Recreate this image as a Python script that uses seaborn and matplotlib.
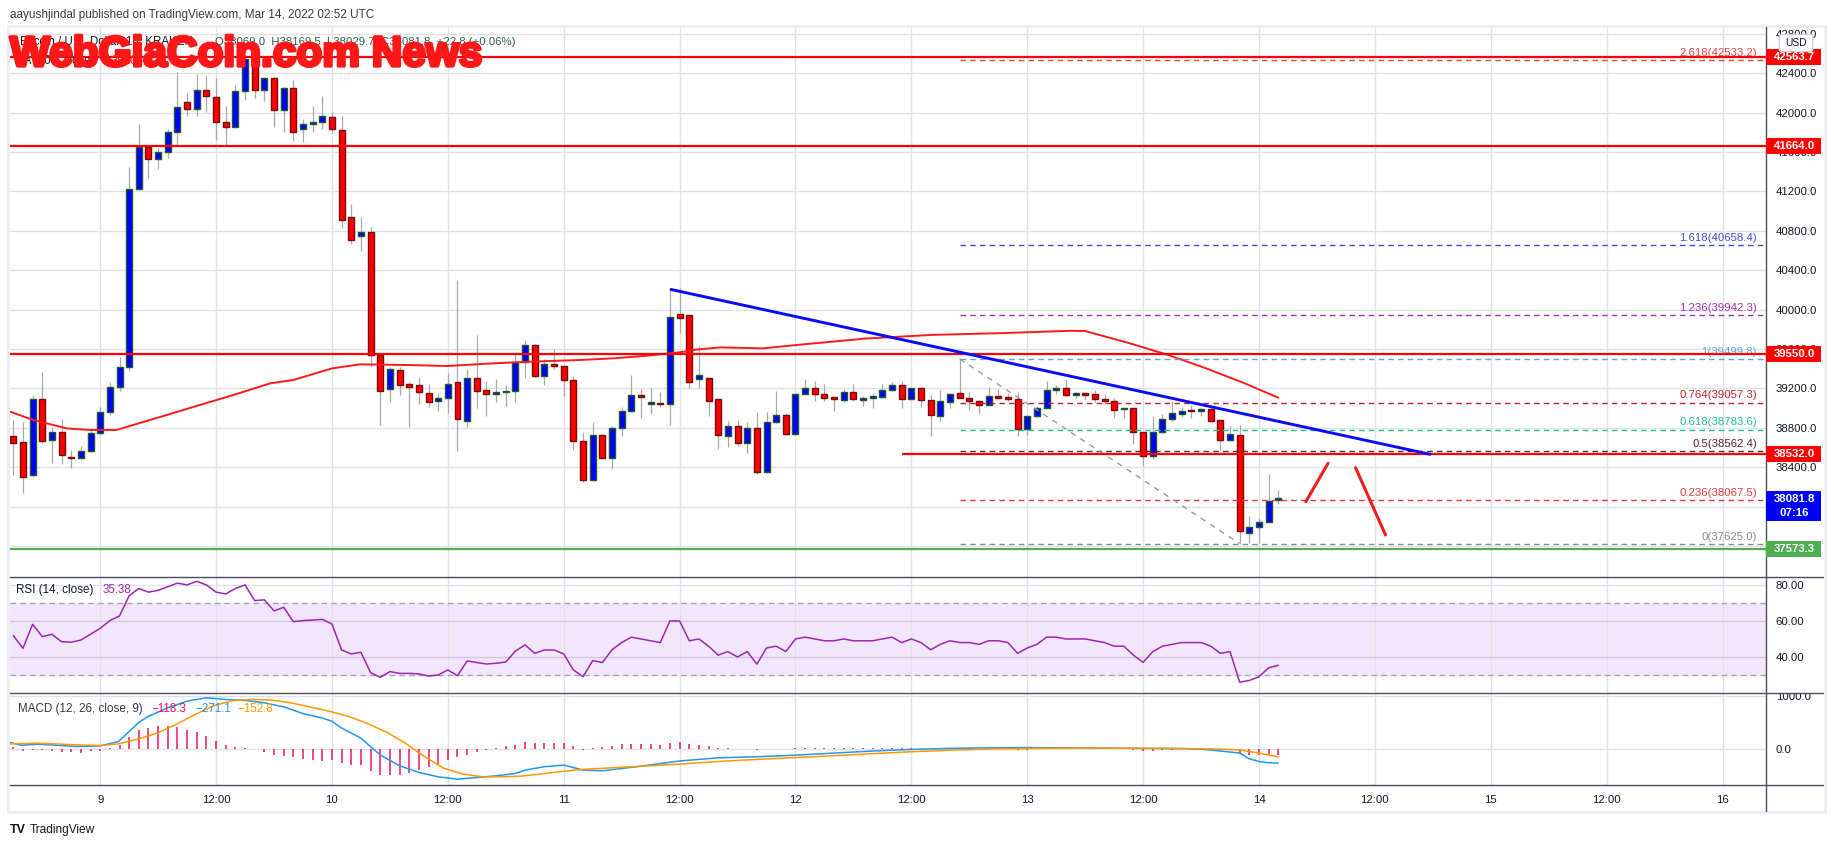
# ================================= Import Libraries =================================

import numpy as np
import pandas as pd
import matplotlib
matplotlib.use("Agg")
import matplotlib.pyplot as plt
import matplotlib.transforms as mtransforms
import matplotlib.patheffects as pe
from matplotlib.patches import Rectangle, FancyBboxPatch
from matplotlib.lines import Line2D
import seaborn as sns

# ================================= Data =================================

# BTC/USD 1h candles (Kraken), Mar 8 15:00 -> Mar 14 02:00 UTC
candle_times = pd.date_range("2022-03-08 15:00", "2022-03-14 02:00", freq="h")

opens = [38721, 38653, 38322, 39090, 38674, 38762, 38508, 38491, 38565, 38745,
         38965, 39218, 39415, 41221, 41647, 41526, 41603, 41800, 42104, 42033,
         42226, 42155, 41908, 41857, 42216, 42540, 42226, 42348, 42023, 42246,
         41830, 41881, 41901, 41952, 41820, 40937, 40744, 40785, 39540, 39190,
         39384, 39245, 39232, 39151, 39076, 39100, 39269, 38873, 39303, 39181,
         39141, 39161, 39178, 39465, 39641, 39330, 39445, 39431, 39283, 38670,
         38268, 38724, 38498, 38795, 38968, 39130, 39045, 39050, 39040, 39952,
         39942, 39293, 39303, 39090, 38714, 38816, 38646, 38795, 38349, 38856,
         38927, 38734, 39149, 39200, 39149, 39108, 39088, 39169, 39088, 39105,
         39110, 39180, 39240, 39098, 39200, 39078, 38916, 39058, 39159, 39108,
         39068, 39037, 39125, 39108, 39098, 38787, 38916, 39004, 39180, 39203,
         39135, 39140, 39142, 39092, 39071, 38990, 39000, 38757, 38513, 38757,
         38889, 38940, 38972, 38970, 38990, 38878, 38675, 38726, 37732, 37793,
         37843, 38069.0]
highs = [38880, 38863, 39134, 39371, 38812, 38887, 38576, 38620, 38779, 39015,
         39269, 39523, 41451, 41881, 41670, 41637, 41833, 42415, 42195, 42388,
         42381, 42348, 42067, 42280, 42585, 42568, 42365, 42365, 42263, 42331,
         41932, 42067, 42168, 42003, 41965, 41072, 40937, 40842, 39560, 39421,
         39421, 39262, 39313, 39245, 39151, 39354, 40301, 39394, 39743, 39276,
         39296, 39235, 39557, 39692, 39650, 39499, 39601, 39440, 39323, 38755,
         38856, 38734, 38816, 39009, 39337, 39195, 39201, 39161, 40216, 40216,
         39950, 39628, 39310, 39095, 38866, 38877, 38856, 38958, 38958, 39171,
         38951, 39155, 39295, 39274, 39244, 39112, 39193, 39244, 39125, 39159,
         39244, 39261, 39271, 39205, 39205, 39132, 39183, 39155, 39499.8, 39169,
         39085, 39210, 39190, 39159, 39169, 38920, 39024, 39271, 39237, 39298,
         39163, 39163, 39186, 39146, 39105, 39000, 39005, 38762, 38919, 38943,
         39068, 39010, 39037, 39000, 39010, 38880, 38818, 38831, 37904, 37884,
         38334, 38169.5]
lows = [38322, 38136, 38310, 38643, 38440, 38430, 38396, 38485, 38552, 38735,
        38931, 39178, 39381, 41210, 41340, 41427, 41536, 41671, 41969, 41969,
        42009, 41722, 41671, 41850, 42128, 42151, 42118, 41857, 41806, 41712,
        41698, 41800, 41830, 41790, 40825, 40666, 40599, 39421, 38829, 39066,
        39134, 38812, 39042, 39015, 38975, 38955, 38569, 38806, 38999, 38924,
        39066, 39026, 39066, 39310, 39313, 39239, 39398, 39127, 38576, 38254,
        38260, 38498, 38383, 38721, 38958, 38904, 38941, 39012, 38833, 39763,
        39205, 39201, 38924, 38586, 38609, 38620, 38548, 38335, 38340, 38850,
        38730, 38723, 39145, 39075, 39075, 38973, 39064, 39075, 39024, 38997,
        39108, 39176, 38997, 39091, 39017, 38713, 38872, 38997, 39105, 38983,
        38936, 39030, 39098, 39075, 38713, 38726, 38910, 39000, 39146, 39125,
        39102, 39078, 39061, 39044, 38899, 38899, 38638, 38412, 38486, 38750,
        38875, 38909, 38902, 38919, 38865, 38571, 38670, 37625.0, 37630, 37630,
        37840, 38029.7]
closes = [38643, 38305, 39090, 38670, 38762, 38525, 38491, 38565, 38745, 38965,
          39218, 39415, 41221, 41647, 41526, 41603, 41800, 42053, 42033, 42226,
          42165, 41908, 41857, 42216, 42540, 42226, 42348, 42023, 42246, 41806,
          41881, 41901, 41965, 41830, 40907, 40704, 40785, 39540, 39178, 39394,
          39232, 39218, 39168, 39066, 39100, 39242, 38894, 39303, 39178, 39141,
          39161, 39178, 39465, 39641, 39330, 39445, 39431, 39283, 38670, 38268,
          38724, 38498, 38795, 38968, 39130, 39110, 39050, 39040, 39922, 39919,
          39262, 39333, 39069, 38724, 38816, 38643, 38795, 38349, 38856, 38927,
          38734, 39149, 39200, 39149, 39108, 39098, 39169, 39098, 39108, 39110,
          39180, 39240, 39098, 39200, 39078, 38926, 39068, 39149, 39108, 39068,
          39037, 39125, 39108, 39098, 38787, 38916, 39004, 39180, 39203, 39132,
          39140, 39135, 39092, 39068, 38980, 38994, 38757, 38513, 38757, 38889,
          38950, 38970, 38968, 38990, 38875, 38675, 38736, 37752, 37793, 37843,
          38056, 38081.8]

# RSI(14, close), one value per candle
rsi_values = [51.9, 44.8, 58.1, 51.3, 52.6, 48.5, 48.2, 49.4, 52.6, 55.9,
              60.2, 62.8, 74, 78, 76, 77, 79, 81, 80, 82,
              80, 76, 75, 78, 80, 71.3, 71.7, 65.6, 67.6, 59.6,
              60.2, 60.5, 60.9, 58.3, 43.9, 41.7, 42.6, 31.3, 28.7, 31.9,
              30.9, 30.9, 30.6, 29.4, 30.0, 32.8, 29.6, 37.8, 36.9, 36.1,
              36.5, 37.2, 43.3, 46.7, 42.0, 43.9, 43.9, 41.7, 32.8, 29.1,
              38.0, 36.9, 44, 48, 51, 50, 49, 48, 60, 60,
              49, 50, 46, 41, 43, 40, 43, 36, 45, 46,
              43, 50, 51, 50, 49, 49, 50, 49, 49, 49,
              50, 51, 48, 50, 48, 44, 47, 49, 48, 48,
              47, 49, 49, 48, 42, 45, 47, 51, 51, 50,
              50, 50, 49, 48, 46, 46, 41, 37, 43, 46,
              47, 48, 48, 48, 46, 42, 43, 26, 27, 29,
              34, 35.38]

# MACD histogram, one value per candle
macd_hist = [32, -45, -26, -26, -32, -51, -64, -70, -45, -32,
             26, 77, 224, 353, 404, 436, 436, 410, 353, 314,
             244, 141, 70, 32, 19, -6, -64, -109, -128, -160,
             -186, -205, -224, -218, -276, -308, -314, -430, -506, -506,
             -506, -462, -410, -353, -314, -218, -160, -109, -64, -26,
             26, 51, 83, 128, 115, 115, 115, 103, 51, -26,
             13, 30, 60, 85, 100, 100, 90, 80, 115, 125,
             100, 80, 55, 25, 15, 5, 5, -15, -5, 5,
             0, 15, 25, 25, 25, 20, 20, 15, 12, 10,
             12, 15, 8, 8, 3, -8, -5, 0, 2, 0,
             -3, 0, 0, -2, -15, -12, -8, 5, 8, 5,
             5, 4, 2, 0, -5, -6, -20, -40, -35, -25,
             -15, -10, -8, -6, -12, -30, -30, -90, -110, -120,
             -115, -118.3]

# MA(100) (hours after 2022-03-08 00:00)
ma_hours = [14.66, 17.07, 20.53, 22.94, 25.7, 27.4, 30.9, 34.3, 37.8, 41.6,
            44.0, 48.0, 50.9, 56.1, 59.9, 64.7, 68.5, 73.7, 77.2, 80.6,
            84.0, 85.7, 88.2, 92.6, 96.5, 103.3, 110.2, 117.1, 124.4, 126.0,
            130.6, 134.6, 138.5, 142.5, 146.0]
ma_values = [38965, 38880, 38795, 38779, 38779, 38829, 38931, 39032, 39134, 39252,
             39286, 39404, 39445, 39438, 39428, 39455, 39472, 39489, 39506, 39533,
             39567, 39594, 39617, 39607, 39645, 39707, 39744, 39761, 39785, 39783,
             39659, 39540, 39405, 39253, 39106]

# MACD and signal lines (hours after 2022-03-08 00:00)
macd_hours = [14.7, 15.8, 17.6, 19.5, 21.5, 24, 25.9, 26.9, 28, 29,
              31, 33, 35, 37, 39, 41, 43, 45, 47, 48,
              49, 51, 53, 55, 57, 59, 61, 63, 65, 67,
              68, 70, 72, 74, 76, 80, 84, 88, 92, 96,
              100, 104, 108, 112, 116, 120, 124, 128, 132, 136,
              138, 140, 142, 143, 144, 145, 146]
macd_values = [122, 70, 89, 70, 45, 57, 141, 314, 506, 621,
               782, 910, 974, 942, 923, 878, 801, 673, 589, 525,
               397, 205, -116, -321, -449, -532, -577, -545, -513, -468,
               -404, -340, -308, -404, -417, -330, -230, -170, -150, -120,
               -80, -40, -10, 10, 20, 25, 20, 15, 10, 5,
               -5, -40, -80, -190, -240, -265, -271.1]
signal_hours = [14.7, 17.6, 21.5, 24, 25.9, 27.9, 29.9, 31.8, 33.8, 35.8,
                37.8, 39.8, 41.8, 43.7, 45.7, 47.7, 49.7, 51.7, 53.7, 55.6,
                57.6, 59.6, 61.6, 63.6, 65.5, 67.5, 69.5, 71.5, 73.9, 75.8,
                80, 84, 88, 92, 96, 100, 104, 108, 112, 116,
                120, 124, 128, 132, 136, 140, 142, 144, 145, 146]
signal_values = [96, 109, 77, 64, 96, 186, 301, 461, 653, 827,
                 923, 942, 929, 878, 801, 718, 621, 481, 314, 109,
                 -148, -372, -481, -532, -532, -520, -481, -436, -391, -372,
                 -330, -290, -240, -200, -165, -130, -90, -55, -25, -5,
                 8, 15, 15, 12, 8, -5, -20, -80, -115, -152.8]

# levels drawn by the author
red_levels = [42563.7, 41664.0, 39550.0]
support_level = 38532.0
support_start_hour = 107
green_level = 37573.3

fib_ratios = ["2.618", "1.618", "1.236", "1", "0.764", "0.618", "0.5", "0.236", "0"]
fib_prices = [42533.2, 40658.4, 39942.3, 39499.8, 39057.3, 38783.6, 38562.4, 38067.5, 37625.0]
fib_colors = ["#e8423f", "#3c4fd9", "#a12fc0", "#5aa6dd", "#c21f2a", "#22c08e", "#5a2235", "#e23b3b", "#8a8a8a"]
fib_start_hour = 113
fib_diag_hours = [113, 142]
fib_diag_prices = [39499.8, 37625.0]

trend_hours = [83, 161.8]
trend_prices = [40207, 38530]

arrow_up_hours = [148.85, 151.15]
arrow_up_prices = [38051, 38441]
arrow_down_hours = [154.0, 157.1]
arrow_down_prices = [38396, 37713]

tick_hours = [24, 36, 48, 60, 72, 84, 96, 108, 120, 132, 144, 156, 168, 180, 192]
tick_labels = ["9", "12:00", "10", "12:00", "11", "12:00", "12", "12:00",
               "13", "12:00", "14", "12:00", "15", "12:00", "16"]
price_ticks = [37600, 38000, 38400, 38800, 39200, 39600, 40000, 40400,
               40800, 41200, 41600, 42000, 42400, 42800]

# ================================= Figure =================================

sns.set_style("white")
plt.rcParams['font.family'] = ['Liberation Sans', 'DejaVu Sans']

W, H = 1834, 848
fig = plt.figure(figsize=(W / 100, H / 100), dpi=100)
fig.patch.set_facecolor("white")


def rect(x0, y0, x1, y1):
    return [x0 / W, 1 - y1 / H, (x1 - x0) / W, (y1 - y0) / H]


ax = fig.add_axes(rect(10, 28, 1766, 577))
ax_rsi = fig.add_axes(rect(10, 577, 1766, 693))
ax_macd = fig.add_axes(rect(10, 693, 1766, 785))

grid_c = "#dfe1e6"
xlim = (14.66, 196.5)
for a in (ax, ax_rsi, ax_macd):
    a.set_xlim(*xlim)
    a.set_xticks(tick_hours)
    a.grid(axis="x", color=grid_c, lw=1.0)
    a.yaxis.tick_right()
    a.tick_params(axis="y", length=0, pad=7, labelsize=8.2, labelcolor="#131722")
    a.tick_params(axis="x", length=0)
    for s in a.spines.values():
        s.set_visible(False)
    a.set_facecolor("white")
    a.set_axisbelow(True)
ax.tick_params(labelbottom=False)
ax_rsi.tick_params(labelbottom=False)
ax_macd.set_xticklabels(tick_labels)
ax_macd.tick_params(axis="x", pad=7, labelsize=8.2, labelcolor="#131722")

# ---------------- main price panel ----------------
ylim_main = (37286.7, 42858.5)
ax.set_ylim(*ylim_main)
ax.set_yticks(price_ticks)
ax.set_yticklabels([f"{v:.1f}" for v in price_ticks])
ax.grid(axis="y", color=grid_c, lw=1.0)

hours = (candle_times - pd.Timestamp("2022-03-08")) / pd.Timedelta(hours=1)
df = pd.DataFrame({"hour": hours, "open": opens, "high": highs, "low": lows, "close": closes})
usd_px = (ylim_main[1] - ylim_main[0]) / (577 - 28)
df["up"] = df["close"] >= df["open"]
df["body_lo"] = df[["open", "close"]].min(axis=1)
df["body_h"] = (df["close"] - df["open"]).abs().clip(lower=1.5 * usd_px)

ax.vlines(df["hour"], df["low"], df["high"], color="#a8a8a8", lw=0.9, zorder=3)
up = df[df["up"]]
dn = df[~df["up"]]
ax.bar(up["hour"], up["body_h"], bottom=up["body_lo"], width=0.62, color="#0000ff",
       edgecolor="#1e5a2a", lw=1.0, zorder=4)
ax.bar(dn["hour"], dn["body_h"], bottom=dn["body_lo"], width=0.62, color="#ff0000",
       edgecolor="#7a0b0b", lw=1.0, zorder=4)

ma_df = pd.DataFrame({"hour": ma_hours, "ma": ma_values})
sns.lineplot(data=ma_df, x="hour", y="ma", ax=ax, color="#ff1a1a", lw=1.4, zorder=5)

# fibonacci levels
for r, p, c in zip(fib_ratios, fib_prices, fib_colors):
    ax.hlines(p, fib_start_hour, xlim[1], colors=c, lw=1.0, linestyles=(0, (4, 3)), zorder=5)
    ax.annotate(f"{r}({p:.1f})", xy=(1, p), xycoords=("axes fraction", "data"),
                xytext=(-6.5, 1.5), textcoords="offset points", ha="right", va="bottom",
                color=c, fontsize=8.2, zorder=6)
ax.plot(fib_diag_hours, fib_diag_prices, color="#9a9a9a", lw=1.0, ls=(0, (4, 4)), zorder=5)

# horizontal levels and trend line
for p in red_levels:
    ax.axhline(p, color="#ff0000", lw=1.6, zorder=6)
ax.hlines(support_level, support_start_hour, xlim[1], colors="#ff0000", lw=1.6, zorder=6)
ax.axhline(green_level, color="#4caf50", lw=1.6, zorder=6)
ax.plot(trend_hours, trend_prices, color="#0a0aff", lw=2.1, zorder=7, solid_capstyle="butt")
ax.plot(arrow_up_hours, arrow_up_prices, color="#f21d1d", lw=2.2, zorder=7, solid_capstyle="round")
ax.plot(arrow_down_hours, arrow_down_prices, color="#f21d1d", lw=2.2, zorder=7, solid_capstyle="round")
ax.set_xlabel("")
ax.set_ylabel("")

# ---------------- RSI panel ----------------
ax_rsi.set_ylim(20, 84.4)
ax_rsi.axhspan(30, 70, color="#f2e6fc", zorder=0)
for lvl in (40, 60):
    ax_rsi.axhline(lvl, color="#d4c4e0", lw=1.0, zorder=1)
ax_rsi.axhline(80, color=grid_c, lw=1.0, zorder=1)
for lvl in (30, 70):
    ax_rsi.axhline(lvl, color="#a9a3b3", lw=1.0, ls=(0, (4, 3)), zorder=1)
ax_rsi.set_yticks([40, 60, 80])
ax_rsi.set_yticklabels(["40.00", "60.00", "80.00"])
rsi_df = pd.DataFrame({"hour": hours, "rsi": rsi_values})
sns.lineplot(data=rsi_df, x="hour", y="rsi", ax=ax_rsi, color="#9c27b0", lw=1.1, zorder=3)
ax_rsi.set_xlabel("")
ax_rsi.set_ylabel("")

# ---------------- MACD panel ----------------
ax_macd.set_ylim(-688, 1065)
ax_macd.axhline(0, color=grid_c, lw=1.0, zorder=0)
ax_macd.axhline(1000, color=grid_c, lw=1.0, zorder=0)
ax_macd.set_yticks([0, 1000])
ax_macd.set_yticklabels(["0.0", "1000.0"])
ax_macd.vlines(hours, 0, macd_hist, color="#f5135c", lw=1.1, zorder=2)
macd_df = pd.DataFrame({"hour": macd_hours, "macd": macd_values})
sig_df = pd.DataFrame({"hour": signal_hours, "signal": signal_values})
sns.lineplot(data=macd_df, x="hour", y="macd", ax=ax_macd, color="#2196f3", lw=1.1, zorder=3)
sns.lineplot(data=sig_df, x="hour", y="signal", ax=ax_macd, color="#ff9800", lw=1.1, zorder=3)
ax_macd.set_xlabel("")
ax_macd.set_ylabel("")
clip = mtransforms.TransformedBbox(mtransforms.Bbox([[10 / W, 1 - 785 / H], [1823 / W, 1 - 694 / H]]),
                                   fig.transFigure)
for lbl in ax_macd.get_yticklabels():
    lbl.set_clip_box(clip)
    lbl.set_clip_on(True)

# ---------------- frame and separators ----------------
def fig_line(x0, y0, x1, y1, color, lw):
    fig.add_artist(Line2D([x0 / W, x1 / W], [1 - y0 / H, 1 - y1 / H], transform=fig.transFigure,
                          color=color, lw=lw, zorder=20))


frame_c = "#eceef3"
fig_line(8, 26, 1825, 26, frame_c, 2.2)
fig_line(8, 812, 1825, 812, frame_c, 2.2)
fig_line(8, 26, 8, 812, frame_c, 2.2)
fig_line(1825, 26, 1825, 812, frame_c, 2.2)
sep_c = "#4a4e59"
for yy in (577, 693, 785):
    fig_line(10, yy, 1823, yy, sep_c, 1.0)
fig_line(1766, 27, 1766, 811, sep_c, 1.0)

# ---------------- price tags on the scale ----------------
tag_tr = mtransforms.blended_transform_factory(fig.transFigure, ax.transData)


def price_tag(price, color, lines, hgt=16, top=8):
    fig.add_artist(Rectangle((1766 / W, price + (top - hgt) * usd_px), 55 / W, hgt * usd_px,
                             transform=tag_tr, facecolor=color, edgecolor="none", zorder=25))
    for i, t in enumerate(lines):
        fig.text(1794 / W, price - i * 14 * usd_px, t, transform=tag_tr, ha="center", va="center",
                 color="white", fontsize=8.2, fontweight="bold", zorder=26)


for p in red_levels + [support_level]:
    price_tag(p, "#ff0000", [f"{p:.1f}"])
price_tag(green_level, "#4caf50", [f"{green_level:.1f}"])
price_tag(closes[-1], "#0000ff", [f"{closes[-1]:.1f}", "07:16"], hgt=30, top=8)

fig.add_artist(FancyBboxPatch((1783 / W, 1 - 50 / H), 26 / W, 14 / H, boxstyle="round,pad=0.002",
                              transform=fig.transFigure, facecolor="white", edgecolor="#c9ccd3",
                              lw=0.8, zorder=25))
fig.text(1796 / W, 1 - 43 / H, "USD", ha="center", va="center", fontsize=7.4, color="#131722", zorder=26)

# ---------------- texts ----------------
fig.text(10 / W, 1 - 15 / H, "aayushjindal published on TradingView.com, Mar 14, 2022 02:52 UTC",
         fontsize=8.5, color="#363a45", va="center")
fig.text(20 / W, 1 - 42 / H, "Bitcoin / U.S. Dollar, 1h, KRAKEN", fontsize=8.3, color="#131722", va="center")
fig.text(215 / W, 1 - 42 / H, "O38069.0  H38169.5  L38029.7  C38081.8  +22.8 (+0.06%)",
         fontsize=8.2, color="#2f5d4f", va="center")
fig.text(14 / W, 1 - 61 / H, "MA (100, close)", fontsize=8.3, color="#131722", va="center")
fig.text(112 / W, 1 - 61 / H, "39106.0", fontsize=8.3, color="#ff1a1a", va="center")

fig.text(10 / W, 1 - 66 / H, "WebGiaCoin.com News", fontsize=30.5, fontweight="bold", color="#ff1616",
         va="baseline", ha="left", zorder=30,
         path_effects=[pe.withStroke(linewidth=2.4, foreground="#ff1616")])

fig.text(16 / W, 1 - 590 / H, "RSI (14, close)", fontsize=8.4, color="#131722", va="center")
fig.text(103 / W, 1 - 590 / H, "35.38", fontsize=8.4, color="#9c27b0", va="center")

fig.text(18 / W, 1 - 709 / H, "MACD (12, 26, close, 9)", fontsize=8.4, color="#363a45", va="center")
fig.text(151 / W, 1 - 709 / H, "\u2212118.3", fontsize=8.4, color="#f5135c", va="center")
fig.text(195 / W, 1 - 709 / H, "\u2212271.1", fontsize=8.4, color="#2196f3", va="center")
fig.text(237 / W, 1 - 709 / H, "\u2212152.8", fontsize=8.4, color="#ff9800", va="center")

fig.text(10 / W, 1 - 830 / H, "TV", fontsize=9, fontweight="bold", color="#131722", va="center")
fig.text(30 / W, 1 - 830 / H, "TradingView", fontsize=8.6, color="#131722", va="center")

fig.savefig("out.png", dpi=100, facecolor="white")
